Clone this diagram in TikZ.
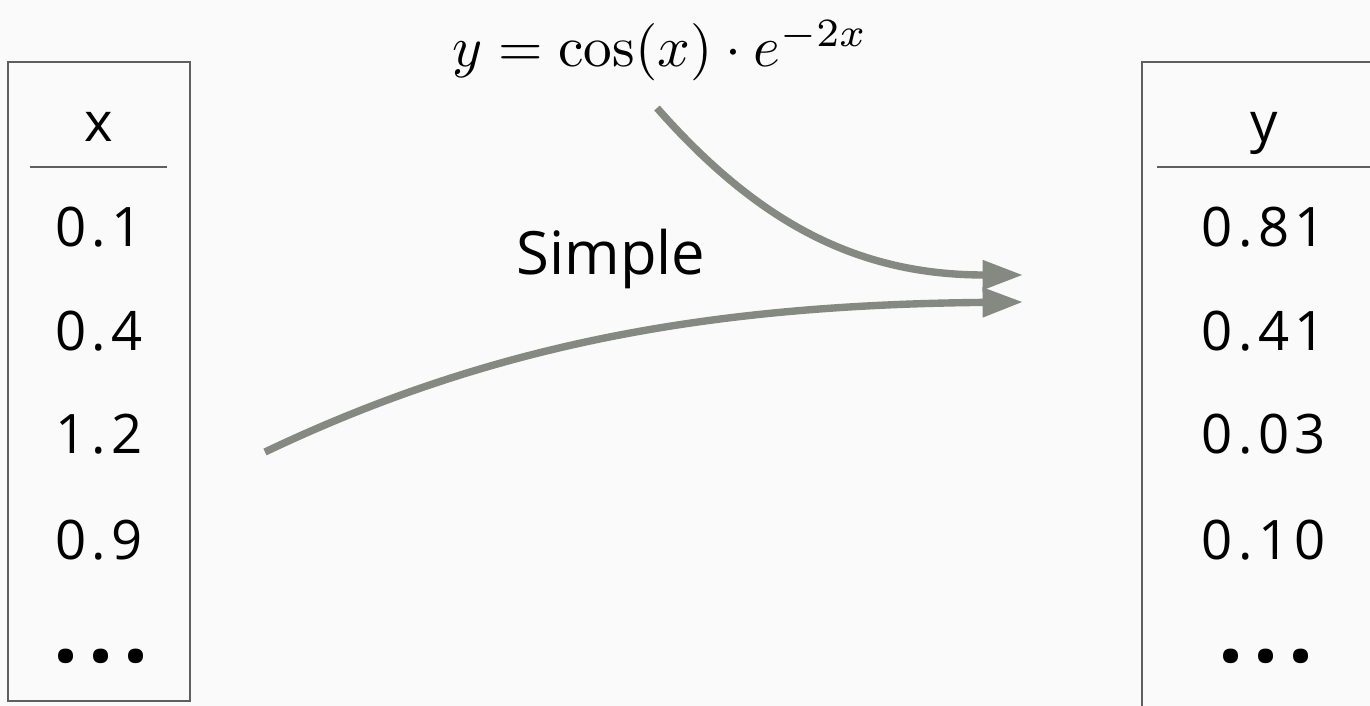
\documentclass[tikz,border=0pt]{standalone}
\usepackage{fontspec}
\usetikzlibrary{arrows.meta}
\newfontfamily\handfont[LetterSpace=10]{Open Sans}
\newfontfamily\wordfont{Open Sans}
\definecolor{flowgray}{RGB}{134,136,130}
\definecolor{boxgray}{RGB}{95,95,95}
\definecolor{paper}{RGB}{250,250,250}

\begin{document}
\begin{tikzpicture}[x=0.02cm, y=-0.02cm,
    cell/.style={font=\handfont\fontsize{31}{36}\selectfont, inner sep=0pt},
    more/.style={cell, font=\handfont\fontsize{50}{56}\selectfont\bfseries\addfontfeatures{LetterSpace=11}},
    flow/.style={flowgray, line width=4.2pt, -{Triangle[length=23pt, width=16pt]}}]
  \fill[paper] (0,0) rectangle (1370,706);
  \useasboundingbox (0,0) rectangle (1370,706);

  % input column
  \draw[boxgray, line width=1.1pt] (8,62) rectangle (190,701);
  \draw[boxgray, line width=0.9pt] (30,167) -- (167,167);
  \node[cell, anchor=base] (xhead) at (99,142) {x};

  % output column
  \draw[boxgray, line width=1.1pt] (1142,62) rectangle (1400,730);
  \draw[boxgray, line width=0.9pt] (1157,167) -- (1380,167);
  \node[cell, anchor=base] (yhead) at (1264,142) {y};

  % values
  \foreach \yy/\xv/\yv [count=\i] in {227/0.1/0.81, 331/0.4/0.41, 434/1.2/0.03, 540/0.9/0.10} {
    \node[cell] (x\i) at (99,\yy) {\xv};
    \node[cell] (y\i) at (1264,\yy) {\yv};
  }
  \node[more] (xmore) at (101,656) {...};
  \node[more] (ymore) at (1266,656) {...};

  % the rule
  \node[anchor=base, scale=3.26, transform shape, inner sep=0pt] (law) at (660,67)
    {$y=\cos(x)\cdot e^{-2x}$};
  \node[anchor=base, font=\wordfont\fontsize{34}{40}\selectfont, inner sep=0pt] (simple) at (611,275) {Simple};

  % mapping arrows
  \coordinate (lawfoot) at (657,108);
  \coordinate (hitA) at (1023,275);
  \coordinate (xfoot) at (265,452);
  \coordinate (hitB) at (1023,302);
  \draw[flow] (lawfoot) .. controls (760,225) and (860,275) .. (hitA);
  \draw[flow] (xfoot) .. controls (500,340) and (720,305) .. (hitB);
\end{tikzpicture}
\end{document}
